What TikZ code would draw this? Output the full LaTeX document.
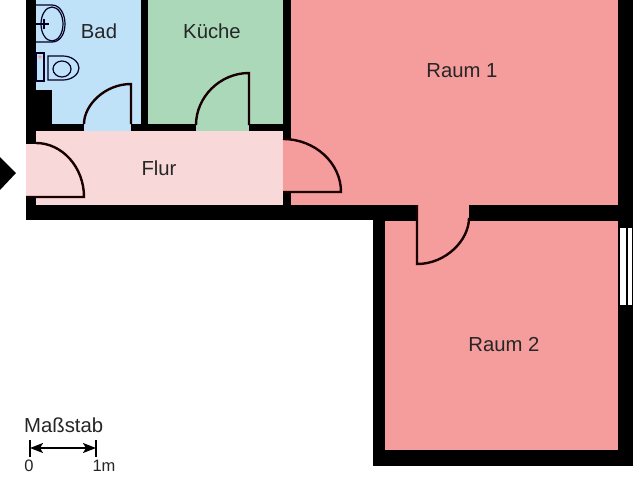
\documentclass[tikz,border=0pt]{standalone}
\usepackage{xcolor}
\usepackage{fontspec}
\setmainfont{Liberation Sans}
\usetikzlibrary{arrows.meta}
\definecolor{badblue}{RGB}{192, 226, 248}
\definecolor{kuechegreen}{RGB}{172, 216, 186}
\definecolor{raumred}{RGB}{245, 156, 156}
\definecolor{flurrose}{RGB}{248, 216, 216}
\tikzset{
  roomlabel/.style={font=\fontsize{20.3}{22}\selectfont, text=black!85, inner sep=0pt},
  scalelabel/.style={font=\fontsize{16.5}{18}\selectfont, text=black!85, inner sep=0pt},
  doorline/.style={line width=2.4pt, black!90!red},
  fixture/.style={line width=1.2pt, black!85!blue}
}

\begin{document}
\begin{tikzpicture}[x=1pt, y=-1pt]
            \useasboundingbox[fill=white] (0,0) rectangle (640,480);

            % Walls
            \fill[black] (26,0) rectangle (633,220);
            \fill[black] (373,205) rectangle (633,466);

            % Rooms
            \fill[badblue] (36,0) rectangle (141,124);
            \fill[black] (36,90) rectangle (52,124);
            \fill[kuechegreen] (148,0) rectangle (283,124);
            \fill[raumred] (291,0) rectangle (618,205);
            \fill[flurrose] (36,131) rectangle (283,205);
            \fill[raumred] (385,221) rectangle (618,450);

            % Door openings
            \fill[badblue] (84,123) rectangle (131,131);
            \fill[kuechegreen] (196,123) rectangle (249,131);
            \fill[flurrose] (26,144) rectangle (37,197);
            \fill[raumred] (283,139) rectangle (292,192);
            \fill[raumred] (417,204) rectangle (469,222);

            % Doors
            \draw[doorline] (131,124) -- (131,84) .. controls (105,84) and (84,105) .. (84,124);
            \draw[doorline] (249,125) -- (249,73) .. controls (220,73) and (196,97) .. (196,125);
            \draw[doorline] (36,143) .. controls (62,143) and (84,167) .. (84,197) -- (26,197);
            \draw[doorline] (283,139) .. controls (315,139) and (341,163) .. (341,192) -- (283,192);
            \draw[doorline] (417,205) -- (417,264) .. controls (446,264) and (469,240) .. (469,218);

            % Window
            \fill[white] (620,228) rectangle (626,305);
            \fill[white] (628,228) rectangle (632,305);

            % Entrance
            \fill[black] (0,157) -- (16,173) -- (0,190) -- cycle;

            % Sink
            \draw[fixture] (36,5) -- (52,5) .. controls (60,5) and (65,14) .. (65,24) .. controls (65,34) and (60,42) .. (52,42) -- (36,42);
            \draw[fixture] (52,24) ellipse [x radius=11, y radius=17];
            \draw[fixture] (36,24) -- (49,24) (44,19) -- (44,29);

            % Toilet
            \draw[fixture] (36,53) rectangle (44,81);
            \fill[raumred] (40,57) circle (1.8);
            \draw[fixture] (48,56) -- (63,56) .. controls (72,56) and (79,62) .. (79,68) .. controls (79,74) and (72,80) .. (63,80) -- (48,80) -- cycle;
            \draw[fixture] (62,69) ellipse [x radius=9, y radius=8];

            % Labels
            \node[roomlabel] (bad) at (99,31) {Bad};
            \node[roomlabel] (kueche) at (212,31) {Küche};
            \node[roomlabel] (raum1) at (462,71) {Raum 1};
            \node[roomlabel] (flur) at (159,168) {Flur};
            \node[roomlabel] (raum2) at (504,345) {Raum 2};

            % Scale
            \node[roomlabel, anchor=west] (massstab) at (24,425) {Maßstab};
            \node[scalelabel] (null) at (29,466) {0};
            \node[scalelabel] (meter) at (104,466) {1m};
            \coordinate (scaleleft) at (30,448);
            \coordinate (scaleright) at (96,448);
            \draw[line width=1.7pt] (30,440) -- (scaleleft) -- (30,457);
            \draw[line width=1.7pt] (96,440) -- (scaleright) -- (96,457);
            \draw[{Stealth[length=13pt,width=10pt,inset=3pt]}-{Stealth[length=13pt,width=10pt,inset=3pt]}, line width=1.5pt] (scaleleft) -- (scaleright);
        \end{tikzpicture}
\end{document}
